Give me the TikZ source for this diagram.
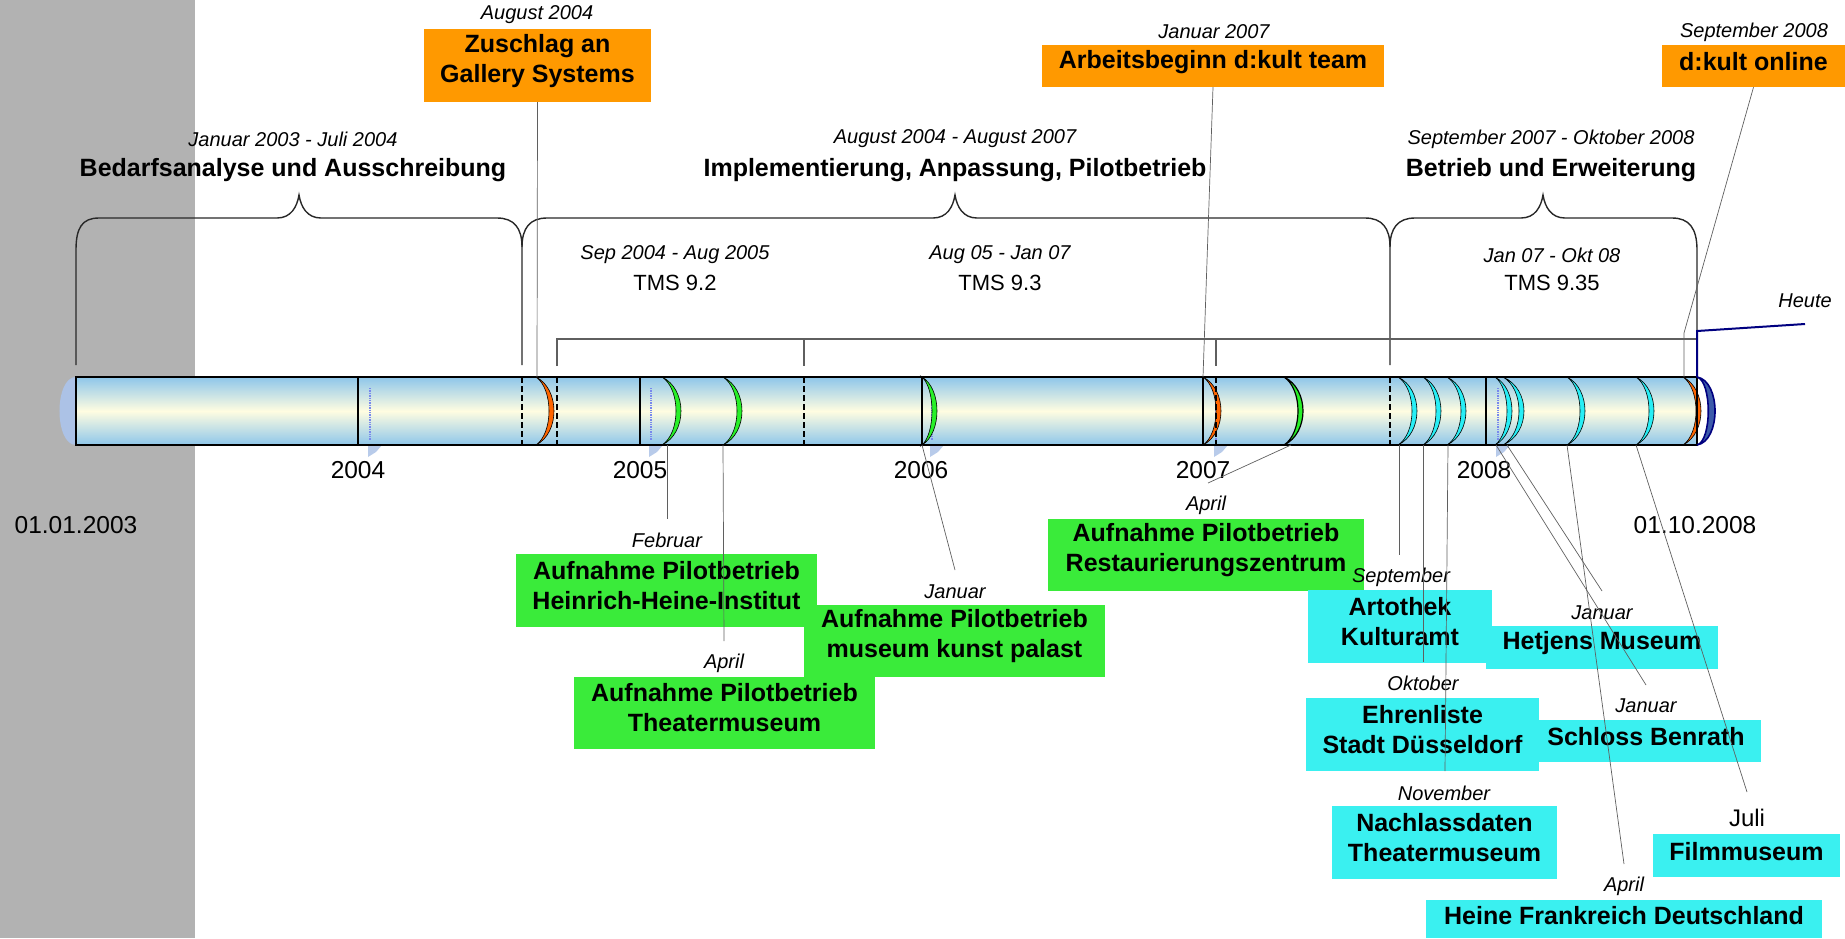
\documentclass[tikz,border=0pt]{standalone}
\usepackage{fontspec}
\setmainfont{Liberation Sans}
\usetikzlibrary{calc}
\definecolor{grayband}{RGB}{178,178,178}
\definecolor{boxorange}{RGB}{255,153,0}
\definecolor{boxgreen}{RGB}{58,235,58}
\definecolor{boxcyan}{RGB}{58,240,240}
\definecolor{ringorange}{RGB}{255,102,0}
\definecolor{ringgreen}{RGB}{40,240,40}
\definecolor{ringcyan}{RGB}{40,238,245}
\definecolor{tubeblue}{RGB}{142,198,234}
\definecolor{tubecream}{RGB}{255,253,225}
\definecolor{capblue}{RGB}{172,194,230}
\definecolor{navyc}{RGB}{0,0,128}
\definecolor{navyfill}{RGB}{60,90,170}
\definecolor{linegray}{RGB}{95,95,95}
\definecolor{bracegray}{RGB}{40,40,40}
\newcommand{\evring}[3]{%
  \filldraw[fill=#3, draw=black, line width=0.6pt]
    (#1,377) .. controls ({#1+1.333*#2},389) and ({#1+1.333*#2},433) .. (#1,445)
    .. controls ({#1+1.333*(#2-5)},433) and ({#1+1.333*(#2-5)},389) .. (#1,377) -- cycle;}
\newcommand{\faintmark}[1]{%
  \draw[capblue!70!blue, densely dotted, line width=1.4pt] (#1,388) -- (#1,440);
  \fill[capblue, opacity=0.85] ({#1-2},445) -- ({#1+12},445) -- ({#1+6},452) -- ({#1-2},457) -- cycle;}
\tikzset{
  datelab/.style={font=\fontsize{20}{22}\selectfont\itshape, inner sep=0pt},
  titlelab/.style={font=\fontsize{25}{28}\selectfont\bfseries, inner sep=0pt},
  yearlab/.style={font=\fontsize{24.5}{26}\selectfont, inner sep=0pt},
  tmslab/.style={font=\fontsize{22}{24}\selectfont, inner sep=0pt},
  evtext/.style={font=\fontsize{25}{30}\selectfont\bfseries, align=center, inner sep=0pt},
  obox/.style={fill=boxorange, inner sep=0pt},
  gbox/.style={fill=boxgreen, inner sep=0pt},
  cbox/.style={fill=boxcyan, inner sep=0pt},
  conn/.style={draw=linegray, line width=0.7pt},
  bracel/.style={draw=bracegray, line width=1.4pt},
  tmsline/.style={draw=linegray, line width=1.3pt},
  yearline/.style={draw=black, line width=1.8pt},
  phaseline/.style={draw=black, line width=1.8pt, dash pattern=on 6pt off 3pt},
}
\begin{document}
\begin{tikzpicture}[x=1pt, y=-1pt]
\useasboundingbox (0,0) rectangle (1845,938);
% gray band
\fill[grayband] (0,0) rectangle (195,938);

% ---- phase braces ----
\draw[bracel] (76,365) -- (76,250) .. controls (76,228) and (82,218) .. (99,218) -- (277,218)
  .. controls (291,218) and (297,207) .. (299,195) .. controls (301,207) and (307,218) .. (321,218)
  -- (497,218) .. controls (514,218) and (522,228) .. (522,247) -- (522,365);
\draw[bracel] (522,247) .. controls (522,228) and (530,218) .. (547,218) -- (933,218)
  .. controls (947,218) and (953,207) .. (955,195) .. controls (957,207) and (963,218) .. (977,218)
  -- (1365,218) .. controls (1382,218) and (1390,228) .. (1390,247) -- (1390,365);
\draw[bracel] (1390,247) .. controls (1390,228) and (1398,218) .. (1415,218) -- (1521,218)
  .. controls (1535,218) and (1541,207) .. (1543,195) .. controls (1545,207) and (1551,218) .. (1565,218)
  -- (1672,218) .. controls (1689,218) and (1697,228) .. (1697,250) -- (1697,331);

% ---- TMS bracket ----
\draw[tmsline] (557,366) -- (557,339) -- (1697,339);
\draw[tmsline] (804,339) -- (804,366);
\draw[tmsline] (1216,339) -- (1216,366);

% ---- phase labels ----
\node[datelab] (p1d) at (293,139) {Januar 2003 - Juli 2004};
\node[titlelab] (p1t) at (293,170) {Bedarfsanalyse und Ausschreibung};
\node[datelab] (p2d) at (955,139) {August 2004 - August 2007};
\node[titlelab] (p2t) at (955,170) {Implementierung, Anpassung, Pilotbetrieb};
\node[datelab] (p3d) at (1551,139) {September 2007 - Oktober 2008};
\node[titlelab] (p3t) at (1551,170) {Betrieb und Erweiterung};

% ---- TMS labels ----
\node[datelab] (t1d) at (675,255) {Sep 2004 - Aug 2005};
\node[tmslab] (t1) at (675,283) {TMS 9.2};
\node[datelab] (t2d) at (1000,255) {Aug 05 - Jan 07};
\node[tmslab] (t2) at (1000,283) {TMS 9.3};
\node[datelab] (t3d) at (1552,255) {Jan 07 - Okt 08};
\node[tmslab] (t3) at (1552,283) {TMS 9.35};

% ---- tube ----
\fill[capblue] (76,377) .. controls (54,377) and (54,445) .. (76,445) -- cycle;
\shade[top color=tubeblue, bottom color=tubeblue, middle color=tubecream] (76,377) rectangle (1697,445);
\faintmark{370}\faintmark{651}\faintmark{932}\faintmark{1216}\faintmark{1498}
\draw[yearline] (358,377) -- (358,445);
\draw[yearline] (640,377) -- (640,445);
\draw[yearline] (922,377) -- (922,445);
\draw[yearline] (1203,377) -- (1203,445);
\draw[yearline] (1486,377) -- (1486,445);
% event rings
\evring{536}{18}{ringorange}
\evring{662}{19}{ringgreen}
\evring{723}{19}{ringgreen}
\evring{922}{15}{ringgreen}
\evring{1203}{18}{ringorange}
\filldraw[fill=ringgreen, draw=black, line width=1.2pt]
  (1284,377) .. controls ({1284+1.333*19},389) and ({1284+1.333*19},433) .. (1284,445)
  .. controls ({1284+1.333*14},433) and ({1284+1.333*14},389) .. (1284,377) -- cycle;
\evring{1398}{19}{ringcyan}
\evring{1423}{18}{ringcyan}
\evring{1447}{19}{ringcyan}
\evring{1495}{17}{ringcyan}
\evring{1503}{21}{ringcyan}
\evring{1567}{18}{ringcyan}
\evring{1636}{18}{ringcyan}
\evring{1683}{18}{ringorange}
% phase boundaries
\draw[phaseline] (522,377) -- (522,445);
\draw[phaseline] (557,377) -- (557,445);
\draw[phaseline] (804,377) -- (804,445);
\draw[phaseline] (1216,377) -- (1216,445);
\draw[phaseline] (1390,377) -- (1390,445);
\draw[black, line width=1.8pt] (76,377) rectangle (1697,445);
% today cap
\filldraw[fill=navyfill, draw=navyc, line width=1.6pt]
  (1697,377) .. controls (1721,381) and (1721,441) .. (1697,445)
  .. controls (1712,441) and (1712,381) .. (1697,377) -- cycle;
\coordinate (today) at (1697,377);
\coordinate (todayk) at (1697,331);
\coordinate (todayend) at (1805,324);
\draw[navyc, line width=2pt] (today) -- (todayk) -- (todayend);
\node[datelab] (heute) at (1805,301) {Heute};

% ---- year labels ----
\node[yearlab] (y04) at (358,470) {2004};
\node[yearlab] (y05) at (640,470) {2005};
\node[yearlab] (y06) at (921,470) {2006};
\node[yearlab] (y07) at (1203,470) {2007};
\node[yearlab] (y08) at (1484,470) {2008};
\node[yearlab] (start) at (76,525) {01.01.2003};
\node[yearlab] (end) at (1695,525) {01.10.2008};

% ---- top milestone boxes ----
\node[datelab] (zusd) at (537,15) {August 2004};
\node[obox, minimum width=227pt, minimum height=73pt] (zus) at (537.5,65.5) {};
\node[evtext] (zust) at ([yshift=4pt]zus.center) {Zuschlag an\\Gallery Systems};
\node[datelab] (arbd) at (1214,32) {Januar 2007};
\node[obox, minimum width=342pt, minimum height=42pt] (arb) at (1213,66) {};
\node[evtext] (arbt) at ([yshift=4pt]arb.center) {Arbeitsbeginn d:kult team};
\node[datelab] (onld) at (1754,32) {September 2008};
\node[obox, minimum width=183pt, minimum height=42pt] (onl) at (1753.5,66) {};
\node[evtext] (onlt) at ([yshift=4pt]onl.center) {d:kult online};

% ---- bottom event boxes ----
\node[datelab] (febd) at (667,540) {Februar};
\node[gbox, minimum width=301pt, minimum height=73pt] (hhi) at (666.5,590.5) {};
\node[evtext] (hhit) at ([yshift=5pt]hhi.center) {Aufnahme Pilotbetrieb\\Heinrich-Heine-Institut};
\node[gbox, minimum width=301pt, minimum height=72pt] (mkp) at (954.5,641) {};
\node[evtext] (mkpt) at ([yshift=5pt]mkp.center) {Aufnahme Pilotbetrieb\\museum kunst palast};
\node[datelab] (mkpd) at (955,592) {Januar};
\node[datelab] (aprd) at (724,663) {April};
\node[gbox, minimum width=301pt, minimum height=72pt] (thm) at (724.5,713) {};
\node[evtext] (thmt) at ([yshift=5pt]thm.center) {Aufnahme Pilotbetrieb\\Theatermuseum};
\node[gbox, minimum width=316pt, minimum height=72pt] (rsz) at (1206,555) {};
\node[evtext] (rszt) at ([yshift=5pt]rsz.center) {Aufnahme Pilotbetrieb\\Restaurierungszentrum};
\node[datelab] (rszd) at (1206,505) {April};
\node[cbox, minimum width=184pt, minimum height=73pt] (art) at (1400,626.5) {};
\node[evtext] (artt) at ([yshift=5pt]art.center) {Artothek\\Kulturamt};
\node[datelab] (artd) at (1401,577) {September};
\node[cbox, minimum width=233pt, minimum height=73pt] (ehr) at (1422.5,734.5) {};
\node[evtext] (ehrt) at ([yshift=5pt]ehr.center) {Ehrenliste\\Stadt Düsseldorf};
\node[datelab] (ehrd) at (1423,683) {Oktober};
\node[cbox, minimum width=225pt, minimum height=73pt] (nld) at (1444.5,842.5) {};
\node[evtext] (nldt) at ([yshift=5pt]nld.center) {Nachlassdaten\\Theatermuseum};
\node[datelab] (nldd) at (1444,793) {November};
\node[cbox, minimum width=232pt, minimum height=43pt] (het) at (1602,647.5) {};
\node[evtext] (hett) at ([yshift=4pt]het.center) {Hetjens Museum};
\node[datelab] (hetd) at (1602,613) {Januar};
\node[cbox, minimum width=230pt, minimum height=42pt] (sbr) at (1646,741) {};
\node[evtext] (sbrt) at ([yshift=4pt]sbr.center) {Schloss Benrath};
\node[datelab] (sbrd) at (1646,706) {Januar};
\node[cbox, minimum width=187pt, minimum height=43pt] (flm) at (1746.5,855.5) {};
\node[evtext] (flmt) at ([yshift=4pt]flm.center) {Filmmuseum};
\node[font=\fontsize{24}{26}\selectfont, inner sep=0pt] (flmd) at (1747,818) {Juli};
\node[cbox, minimum width=396pt, minimum height=38pt] (hfd) at (1624,919) {};
\node[evtext] (hfdt) at ([yshift=3pt]hfd.center) {Heine Frankreich Deutschland};
\node[datelab] (hfdd) at (1624,886) {April};

% ---- connectors ----
\coordinate (rAug04) at (537,377);
\coordinate (rJan07) at (1203,377);
\coordinate (kOnl) at (1684,333);
\coordinate (rSep08) at (1684,377);
\draw[conn] (zus.south) -- (rAug04);
\draw[conn] (arb.south) -- (rJan07);
\draw[conn] (onl.south) -- (kOnl) -- (rSep08);

\coordinate (bFeb05) at (667,445);  \coordinate (eFeb05) at (667,519);
\coordinate (bApr05) at (723,445);  \coordinate (eApr05) at (724,641);
\coordinate (bJan06) at (922,445);  \coordinate (eJan06) at (955,570);
\coordinate (bApr07) at (1291,445); \coordinate (eApr07) at (1208,483);
\coordinate (bSep07) at (1399,445); \coordinate (eSep07) at (1399,555);
\coordinate (bOkt07) at (1423,445); \coordinate (eOkt07) at (1423,662);
\coordinate (bNov07) at (1448,445); \coordinate (eNov07) at (1445,771);
\coordinate (bJan08a) at (1507,445); \coordinate (eJan08a) at (1602,591);
\coordinate (bJan08b) at (1496,445); \coordinate (eJan08b) at (1646,685);
\coordinate (bApr08) at (1567,445); \coordinate (eApr08) at (1624,864);
\coordinate (bJul08) at (1636,445); \coordinate (eJul08) at (1747,792);
\draw[conn] (bFeb05) -- (eFeb05);
\draw[conn] (bApr05) -- (eApr05);
\draw[conn] (bJan06) -- (eJan06);
\draw[conn] (bApr07) -- (eApr07);
\draw[conn] (bSep07) -- (eSep07);
\draw[conn] (bOkt07) -- (eOkt07);
\draw[conn] (bNov07) -- (eNov07);
\draw[conn] (bJan08a) -- (eJan08a);
\draw[conn] (bJan08b) -- (eJan08b);
\draw[conn] (bApr08) -- (eApr08);
\draw[conn] (bJul08) -- (eJul08);
\end{tikzpicture}
\end{document}
